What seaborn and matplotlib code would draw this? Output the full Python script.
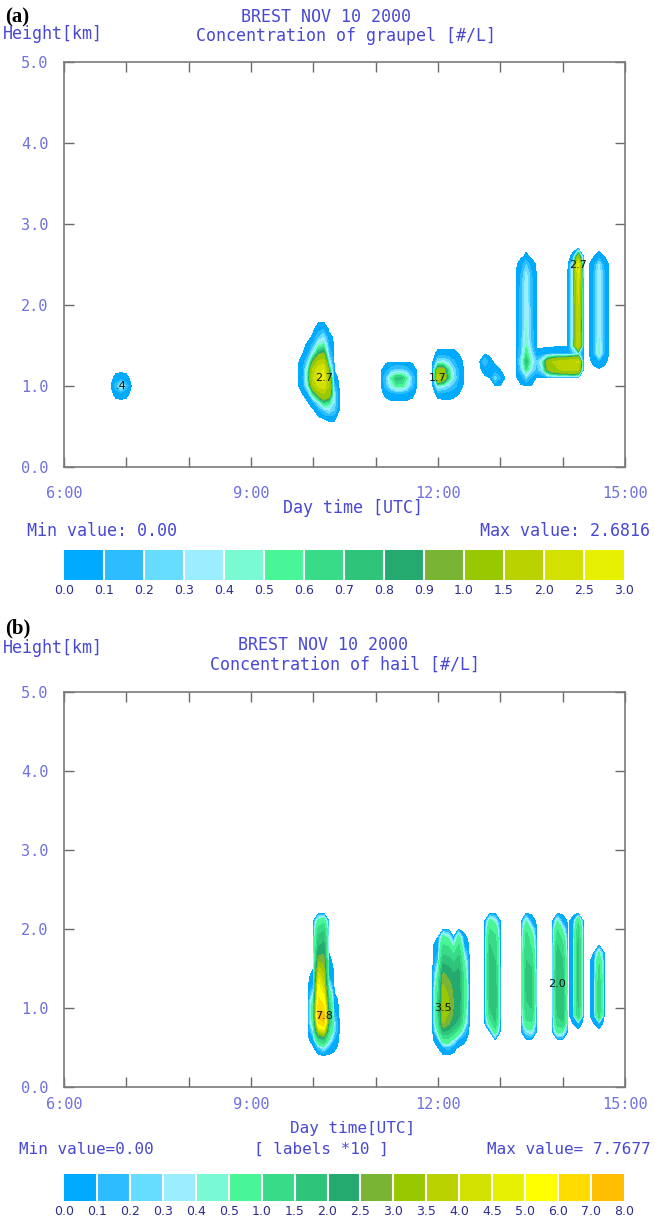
import numpy as np
import matplotlib
matplotlib.use("Agg")
import matplotlib.pyplot as plt
from matplotlib.colors import ListedColormap, BoundaryNorm
from matplotlib.cm import ScalarMappable
import seaborn as sns

sns.set_theme(style="white")
plt.rcParams["font.family"] = ["DejaVu Sans Mono", "DejaVu Sans"]

# ---------------------------------------------------------------------------
# Model grid: 5-minute output from 06:00 to 15:00 UTC, 0.1 km levels 0-5 km
# ---------------------------------------------------------------------------
TIME_START_H = 6
TIME_STEP_MIN = 5
N_TIMES = 109
HEIGHT_STEP_KM = 0.1
N_HEIGHTS = 51

hour_ticks = [6, 9, 12, 15]
hour_labels = ["6:00", "9:00", "12:00", "15:00"]
height_ticks = [0, 1, 2, 3, 4, 5]
height_labels = ["0.0", "1.0", "2.0", "3.0", "4.0", "5.0"]

# shading classes
graupel_levels = [0.0, 0.1, 0.2, 0.3, 0.4, 0.5, 0.6, 0.7, 0.8, 0.9,
                  1.0, 1.5, 2.0, 2.5, 3.0]
hail_levels = [0.0, 0.1, 0.2, 0.3, 0.4, 0.5, 1.0, 1.5, 2.0, 2.5,
               3.0, 3.5, 4.0, 4.5, 5.0, 6.0, 7.0, 8.0]
shade_colors = ["#00aaff", "#2cbdff", "#66dcff", "#9aeeff", "#7afad2",
                "#48f597", "#38dc88", "#2ec47a", "#24a96e", "#7ab434",
                "#98c800", "#bad200", "#d3e100", "#e7f000", "#ffff00",
                "#ffdc00", "#ffbe00"]
SHADE_FLOOR = 0.01   # values below this are left unshaded

# ---------------------------------------------------------------------------
# Concentration cells: first column time, top level (km), rows top -> bottom
# ---------------------------------------------------------------------------
graupel_0650 = dict(start="06:50", top=1.1, label=True, rows=[
    [0.02, 0.03, 0.02],
    [0.15, 0.40, 0.15],
    [0.02, 0.03, 0.02],
])
graupel_1010 = dict(start="09:50", top=1.7, label=True, rows=[
    [0.00, 0.00, 0.00, 0.05, 0.10, 0.00, 0.00],
    [0.00, 0.00, 0.02, 0.20, 0.30, 0.03, 0.00],
    [0.00, 0.02, 0.15, 0.45, 0.55, 0.10, 0.00],
    [0.01, 0.08, 0.40, 0.85, 0.95, 0.20, 0.00],
    [0.04, 0.25, 0.95, 1.60, 1.75, 0.40, 0.00],
    [0.08, 0.50, 1.70, 2.35, 2.50, 0.80, 0.01],
    [0.10, 0.60, 1.95, 2.55, 2.66, 1.20, 0.03],
    [0.06, 0.40, 1.50, 2.10, 2.30, 1.50, 0.15],
    [0.01, 0.10, 0.60, 1.10, 1.50, 1.20, 0.30],
    [0.00, 0.01, 0.10, 0.35, 0.70, 0.60, 0.30],
    [0.00, 0.00, 0.00, 0.05, 0.20, 0.30, 0.20],
    [0.00, 0.00, 0.00, 0.00, 0.01, 0.015, 0.015],
])
graupel_1120 = dict(start="11:10", top=1.2, label=False, rows=[
    [0.05, 0.15, 0.22, 0.22, 0.15, 0.05],
    [0.20, 0.52, 0.76, 0.74, 0.52, 0.20],
    [0.15, 0.38, 0.55, 0.55, 0.38, 0.15],
    [0.02, 0.04, 0.05, 0.05, 0.04, 0.02],
])
graupel_1200 = dict(start="12:00", top=1.4, label=True, rows=[
    [0.02, 0.02, 0.02, 0.02, 0.01],
    [0.30, 0.35, 0.25, 0.12, 0.04],
    [1.20, 1.10, 0.60, 0.25, 0.08],
    [1.70, 1.30, 0.70, 0.30, 0.10],
    [0.40, 0.35, 0.25, 0.15, 0.05],
    [0.02, 0.03, 0.03, 0.02, 0.01],
])
graupel_1250 = dict(start="12:45", top=1.3, label=False, rows=[
    [0.20, 0.025, 0.00, 0.00],
    [0.03, 0.05, 0.03, 0.01],
    [0.00, 0.01, 0.25, 0.10],
])
graupel_1325 = dict(start="13:20", top=2.6, label=False, rows=[
    [0.00, 0.02, 0.00],
    [0.04, 0.20, 0.04],
    [0.10, 0.32, 0.10],
    [0.12, 0.36, 0.12],
    [0.13, 0.38, 0.12],
    [0.13, 0.38, 0.12],
    [0.13, 0.39, 0.12],
    [0.13, 0.40, 0.13],
    [0.14, 0.40, 0.13],
    [0.14, 0.42, 0.14],
    [0.15, 0.44, 0.15],
    [0.16, 0.48, 0.18],
    [0.20, 0.60, 0.30],
    [0.30, 0.78, 0.40],
    [0.20, 0.60, 0.30],
    [0.05, 0.22, 0.08],
])
graupel_band = dict(start="13:35", top=1.4, label=False, rows=[
    [0.03, 0.03, 0.04, 0.05, 0.06, 0.06, 0.07, 0.12, 0.30],
    [0.20, 0.40, 1.10, 1.50, 1.65, 1.75, 1.85, 1.95, 2.05],
    [0.15, 0.30, 0.90, 1.30, 1.45, 1.55, 1.65, 1.75, 1.60],
])
graupel_1415 = dict(start="14:10", top=2.6, label=True, rows=[
    [0.02, 1.20],
    [0.35, 2.6816],
    [0.40, 2.50],
    [0.40, 2.30],
    [0.40, 2.15],
    [0.40, 2.05],
    [0.40, 2.00],
    [0.40, 1.95],
    [0.40, 1.90],
    [0.40, 1.90],
    [0.40, 1.95],
    [0.45, 2.00],
])
graupel_1435 = dict(start="14:30", top=2.6, label=False, rows=[
    [0.01, 0.03, 0.01],
    [0.06, 0.30, 0.06],
    [0.10, 0.38, 0.10],
    [0.10, 0.38, 0.10],
    [0.10, 0.38, 0.10],
    [0.10, 0.38, 0.10],
    [0.10, 0.38, 0.10],
    [0.10, 0.38, 0.10],
    [0.10, 0.38, 0.10],
    [0.10, 0.39, 0.10],
    [0.10, 0.40, 0.10],
    [0.10, 0.44, 0.10],
    [0.10, 0.46, 0.10],
    [0.02, 0.06, 0.02],
])

hail_1010 = dict(start="10:00", top=2.1, label=True, rows=[
    [0.00, 0.60, 0.80, 0.00, 0.00],
    [0.00, 1.20, 1.40, 0.00, 0.00],
    [0.00, 1.60, 1.80, 0.00, 0.00],
    [0.00, 1.90, 2.10, 0.00, 0.00],
    [0.00, 2.30, 2.40, 0.01, 0.00],
    [0.00, 2.90, 2.80, 0.02, 0.00],
    [0.01, 3.60, 3.20, 0.05, 0.00],
    [0.03, 4.30, 3.60, 0.10, 0.00],
    [0.10, 5.00, 4.00, 0.30, 0.00],
    [0.30, 5.60, 4.60, 0.70, 0.01],
    [0.60, 6.20, 5.40, 1.10, 0.03],
    [0.80, 6.80, 6.40, 1.50, 0.06],
    [0.80, 7.20, 7.7677, 1.80, 0.15],
    [0.60, 6.00, 6.80, 1.60, 0.30],
    [0.30, 3.50, 4.20, 1.00, 0.25],
    [0.05, 1.20, 1.60, 0.50, 0.10],
    [0.00, 0.15, 0.35, 0.10, 0.02],
])
hail_1205 = dict(start="12:00", top=1.9, label=True, rows=[
    [0.01, 0.60, 0.40, 0.01, 0.60, 0.02],
    [0.05, 1.00, 0.90, 0.30, 1.00, 0.10],
    [0.10, 1.40, 1.30, 0.90, 1.40, 0.30],
    [0.20, 1.80, 1.70, 1.40, 1.70, 0.50],
    [0.40, 2.30, 2.10, 1.80, 2.00, 0.70],
    [0.60, 2.70, 2.40, 2.10, 2.20, 0.80],
    [0.80, 3.00, 2.70, 2.30, 2.30, 0.90],
    [1.00, 3.30, 2.90, 2.40, 2.35, 0.90],
    [1.10, 3.45, 3.05, 2.45, 2.35, 0.90],
    [1.20, 3.50, 3.05, 2.45, 2.30, 0.85],
    [1.10, 3.30, 2.90, 2.35, 2.10, 0.70],
    [0.90, 3.00, 2.60, 2.10, 1.70, 0.50],
    [0.50, 2.00, 1.80, 1.30, 0.70, 0.20],
    [0.10, 0.80, 0.80, 0.40, 0.10, 0.02],
    [0.01, 0.08, 0.15, 0.03, 0.00, 0.00],
])
hail_1250 = dict(start="12:50", top=2.1, label=False, rows=[
    [0.6, 0.4], [1.0, 0.8], [1.3, 1.1], [1.5, 1.3], [1.6, 1.4],
    [1.7, 1.5], [1.8, 1.6], [1.8, 1.7], [1.8, 1.8], [1.7, 1.8],
    [1.6, 1.8], [1.5, 1.8], [1.2, 1.7], [0.6, 1.4], [0.01, 0.7],
])
hail_1325 = dict(start="13:25", top=2.1, label=False, rows=[
    [0.5, 0.05], [0.9, 0.4], [1.2, 0.7], [1.3, 0.9], [1.4, 1.1],
    [1.5, 1.3], [1.6, 1.5], [1.6, 1.6], [1.6, 1.6], [1.6, 1.6],
    [1.5, 1.6], [1.4, 1.5], [1.2, 1.3], [0.8, 0.9], [0.3, 0.4],
])
hail_1355 = dict(start="13:55", top=2.1, label=True, rows=[
    [0.5, 0.05], [1.0, 0.4], [1.3, 0.8], [1.5, 1.1], [1.7, 1.3],
    [1.8, 1.5], [1.9, 1.6], [1.95, 1.7], [2.0, 1.75], [1.9, 1.8],
    [1.8, 1.85], [1.7, 1.85], [1.5, 1.7], [1.2, 1.4], [0.6, 0.5],
])
hail_1415 = dict(start="14:10", top=2.1, label=False, rows=[
    [0.03, 0.9], [0.03, 1.3], [0.03, 1.5], [0.03, 1.6], [0.03, 1.6],
    [0.03, 1.7], [0.03, 1.7], [0.03, 1.7], [0.03, 1.6], [0.03, 1.6],
    [0.03, 1.6], [0.03, 1.5], [0.03, 1.3], [0.01, 0.03],
])
hail_1435 = dict(start="14:30", top=1.7, label=False, rows=[
    [0.01, 0.5], [0.03, 0.9], [0.03, 1.1], [0.03, 1.2], [0.03, 1.3],
    [0.03, 1.3], [0.03, 1.3], [0.03, 1.3], [0.03, 1.2], [0.01, 0.03],
])

graupel_cells = [graupel_0650, graupel_1010, graupel_1120, graupel_1200,
                 graupel_1250, graupel_1325, graupel_band, graupel_1415,
                 graupel_1435]
hail_cells = [hail_1010, hail_1205, hail_1250, hail_1325, hail_1355,
              hail_1415, hail_1435]

times_h = TIME_START_H + np.arange(N_TIMES) * TIME_STEP_MIN / 60.0
heights_km = np.arange(N_HEIGHTS) * HEIGHT_STEP_KM


def col_index(hhmm):
    h, m = hhmm.split(":")
    return int(round(((int(h) - TIME_START_H) * 60 + int(m)) / TIME_STEP_MIN))


def build_field(cells):
    field = np.zeros((N_HEIGHTS, N_TIMES))
    labels = []
    for cell in cells:
        rows = np.asarray(cell["rows"], dtype=float)
        j0 = col_index(cell["start"])
        i0 = int(round(cell["top"] / HEIGHT_STEP_KM))
        for r, row in enumerate(rows):
            i = i0 - r
            sl = slice(j0, j0 + len(row))
            field[i, sl] = np.maximum(field[i, sl], row)
        if cell["label"]:
            r, c = np.unravel_index(np.argmax(rows), rows.shape)
            labels.append((times_h[j0 + c], heights_km[i0 - r], rows[r, c]))
    return field, labels


def fmt_peak(v):
    s = f"{v:.1f}"
    return s[1:] if s.startswith("0") else s


W, H = 654, 1218
fig = plt.figure(figsize=(W / 100, H / 100), dpi=100, facecolor="white")

TITLE_C = "#4848d4"
TICK_C = "#7070e0"
CBAR_C = "#2c2c90"


def fx(x):
    return x / W


def fy(y):
    return 1 - y / H


def draw_panel(ax_box, cax_box, cells, levels, xpad, texts):
    ax = fig.add_axes([fx(ax_box[0]), fy(ax_box[3]),
                       (ax_box[2] - ax_box[0]) / W, (ax_box[3] - ax_box[1]) / H])
    field, labels = build_field(cells)
    n = len(levels) - 1
    cols = shade_colors[:n]
    ax.contourf(times_h, heights_km, field,
                levels=[SHADE_FLOOR] + levels[1:], colors=cols)
    for t, h, v in labels:
        ax.text(t, h, fmt_peak(v), ha="center", va="center", fontsize=8,
                color="#111111", family="DejaVu Sans")
    ax.set_xlim(6, 15)
    ax.set_ylim(0, 5)
    ax.set_xticks(hour_ticks)
    ax.set_xticklabels(hour_labels)
    ax.set_xticks(range(6, 16), minor=True)
    ax.set_yticks(height_ticks)
    ax.set_yticklabels(height_labels)
    for s in ax.spines.values():
        s.set_color("#7a7a7a")
        s.set_linewidth(1.2)
    ax.tick_params(which="both", direction="in", length=7, width=1,
                   color="#6a6a6a", top=True, right=True, bottom=True, left=True)
    ax.tick_params(axis="x", pad=xpad, labelsize=11, labelcolor=TICK_C)
    ax.tick_params(axis="y", pad=11, labelsize=11, labelcolor=TICK_C)
    ax.set_facecolor("white")

    cax = fig.add_axes([fx(cax_box[0]), fy(cax_box[3]),
                        (cax_box[2] - cax_box[0]) / W, (cax_box[3] - cax_box[1]) / H])
    cmap = ListedColormap(sns.color_palette(cols))
    norm = BoundaryNorm(levels, cmap.N)
    cb = fig.colorbar(ScalarMappable(norm=norm, cmap=cmap), cax=cax,
                      orientation="horizontal", spacing="uniform",
                      ticks=levels, drawedges=True)
    cb.outline.set_visible(False)
    cb.dividers.set_color("white")
    cb.dividers.set_linewidth(1.5)
    cb.ax.set_xticklabels([f"{v:.1f}" for v in levels])
    cb.ax.tick_params(length=0, pad=3, labelsize=9, labelcolor=CBAR_C)
    for lab in cb.ax.get_xticklabels():
        lab.set_family("DejaVu Sans")

    for (x, y, s, ha, size, color, kw) in texts:
        fig.text(fx(x), fy(y), s, ha=ha, va="center", fontsize=size,
                 color=color, **kw)
    return field


serif_bold = dict(family="Liberation Serif", weight="bold")

graupel_field = draw_panel(
    (64, 62, 625, 467), (64, 550, 624, 580), graupel_cells, graupel_levels, 14,
    [(5, 17, "(a)", "left", 15, "black", serif_bold),
     (326, 17, "BREST NOV 10 2000", "center", 12, TITLE_C, {}),
     (3, 34, "Height[km]", "left", 12, TITLE_C, {}),
     (346, 36, "Concentration of graupel [#/L]", "center", 12, TITLE_C, {}),
     (353, 508, "Day time [UTC]", "center", 12, TITLE_C, {})])
fig.text(fx(27), fy(531), f"Min value: {graupel_field.min():.2f}", ha="left",
         va="center", fontsize=12, color=TITLE_C)
fig.text(fx(650), fy(531), f"Max value: {graupel_field.max():.4f}", ha="right",
         va="center", fontsize=12, color=TITLE_C)

hail_field = draw_panel(
    (64, 692, 625, 1087), (64, 1174, 624, 1201), hail_cells, hail_levels, 7,
    [(5, 628, "(b)", "left", 15, "black", serif_bold),
     (323, 645, "BREST NOV 10 2000", "center", 12, TITLE_C, {}),
     (3, 648, "Height[km]", "left", 12, TITLE_C, {}),
     (345, 665, "Concentration of hail [#/L]", "center", 12, TITLE_C, {}),
     (353, 1129, "Day time[UTC]", "center", 11.5, TITLE_C, {})])
fig.text(fx(19), fy(1149), f"Min value={hail_field.min():.2f}", ha="left",
         va="center", fontsize=11.5, color=TITLE_C)
fig.text(fx(321), fy(1149), "[ labels *10 ]", ha="center",
         va="center", fontsize=11.5, color=TITLE_C)
fig.text(fx(651), fy(1149), f"Max value= {hail_field.max():.4f}", ha="right",
         va="center", fontsize=11.5, color=TITLE_C)

fig.savefig("out.png", dpi=100, facecolor="white")
